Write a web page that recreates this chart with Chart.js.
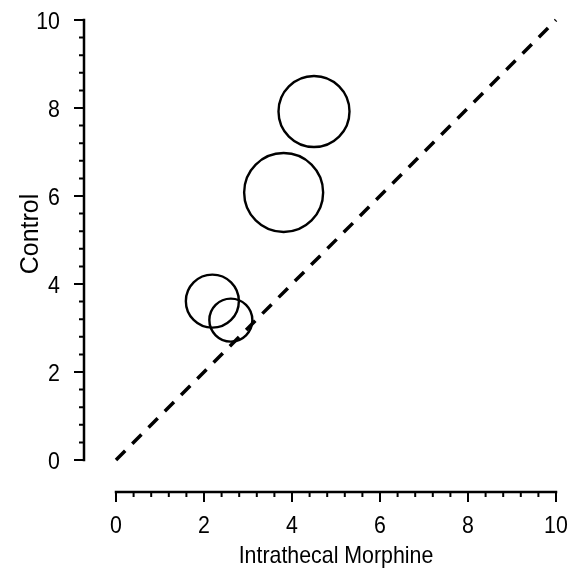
<!DOCTYPE html>
<html>
<head>
<meta charset="utf-8">
<script src="https://cdn.jsdelivr.net/npm/chart.js@4/dist/chart.umd.min.js"></script>
<style>
  body { margin: 0; background: #fff; }
</style>
</head>
<body>
<canvas id="myChart" width="571" height="569"></canvas>
<script>
const morphine = [4.50, 3.81, 2.19, 2.61];
const control = [7.92, 6.08, 3.61, 3.18];
const bubbleSize = [35.5, 39.5, 26.5, 21.5];
const identityLine = [0, 10];
const majorTicks = [0, 2, 4, 6, 8, 10];
const minorStep = 0.4;
const xTitle = 'Intrathecal Morphine';
const yTitle = 'Control';

const fontFamily = "'Liberation Sans', Arial, sans-serif";

// no narrow font installed, so squeeze the text a bit by hand
function drawText(ctx, text, x, y, align, size, sx, angle) {
    ctx.save();
    ctx.translate(x, y);
    if (angle) ctx.rotate(angle);
    ctx.scale(sx, 1);
    ctx.font = size + 'px ' + fontFamily;
    ctx.fillStyle = '#000';
    ctx.textAlign = align;
    ctx.textBaseline = 'alphabetic';
    ctx.fillText(text, 0, 0);
    ctx.restore();
}

// axes are drawn detached from the plot area, like the original figure
const offsetAxes = {
    id: 'offsetAxes',
    afterDraw(chart) {
        const ctx = chart.ctx;
        const x = chart.scales.x;
        const y = chart.scales.y;
        const area = chart.chartArea;
        const gap = 32;
        const axisY = y.getPixelForValue(0) + gap;
        const axisX = x.getPixelForValue(0) - gap;
        const lo = majorTicks[0], hi = majorTicks[majorTicks.length - 1];

        ctx.save();
        ctx.strokeStyle = '#000';
        ctx.lineCap = 'butt';

        ctx.lineWidth = 2.5;
        ctx.beginPath();
        ctx.moveTo(x.getPixelForValue(lo) - 1.25, axisY);
        ctx.lineTo(x.getPixelForValue(hi) + 1.25, axisY);
        ctx.moveTo(axisX, y.getPixelForValue(lo) + 1.25);
        ctx.lineTo(axisX, y.getPixelForValue(hi) - 1.25);
        ctx.stroke();

        ctx.lineWidth = 2;
        const count = Math.round((hi - lo) / minorStep);
        for (let i = 0; i <= count; i++) {
            const v = lo + i * minorStep;
            const isMajor = majorTicks.some(t => Math.abs(t - v) < 1e-6);
            const len = isMajor ? 10 : 5;
            const px = x.getPixelForValue(v);
            const py = y.getPixelForValue(v);
            ctx.beginPath();
            ctx.moveTo(px, axisY);
            ctx.lineTo(px, axisY + len);
            ctx.moveTo(axisX, py);
            ctx.lineTo(axisX - len, py);
            ctx.stroke();
        }
        ctx.restore();

        majorTicks.forEach(t => {
            drawText(ctx, String(t), x.getPixelForValue(t), axisY + 41, 'center', 24, 0.89);
            drawText(ctx, String(t), axisX - 24, y.getPixelForValue(t) + 8.6, 'right', 24, 0.89);
        });
        drawText(ctx, xTitle, (area.left + area.right) / 2, 563, 'center', 24, 0.89);
        drawText(ctx, yTitle, 38, 234, 'center', 25, 1.0, -Math.PI / 2);
    }
};

const ctx = document.getElementById('myChart').getContext('2d');

const myChart = new Chart(ctx, {
    type: 'bubble',
    data: {
        datasets: [{
            label: 'Patients',
            data: morphine.map((v, i) => ({ x: v, y: control[i], r: bubbleSize[i] })),
            backgroundColor: 'rgba(0,0,0,0)',
            borderColor: '#000',
            borderWidth: 2.4,
            hoverBorderWidth: 2.4,
            clip: false
        }, {
            type: 'line',
            label: 'Identity',
            data: identityLine.map(v => ({ x: v, y: v })),
            borderColor: '#000',
            borderWidth: 3.5,
            borderDash: [13, 10],
            pointRadius: 0,
            fill: false,
            clip: false
        }]
    },
    options: {
        responsive: false,
        animation: false,
        layout: { autoPadding: false, padding: { top: 20, right: 15, left: 0, bottom: 0 } },
        plugins: {
            legend: { display: false },
            tooltip: { enabled: false }
        },
        scales: {
            x: {
                type: 'linear',
                min: 0,
                max: 10,
                afterFit(scale) { scale.height = 109; },
                border: { display: false },
                grid: { display: false, drawTicks: false, tickLength: 0 },
                ticks: { display: false, stepSize: 2 }
            },
            y: {
                type: 'linear',
                min: 0,
                max: 10,
                afterFit(scale) { scale.width = 116; },
                border: { display: false },
                grid: { display: false, drawTicks: false, tickLength: 0 },
                ticks: { display: false, stepSize: 2 }
            }
        }
    },
    plugins: [offsetAxes]
});
</script>
</body>
</html>
